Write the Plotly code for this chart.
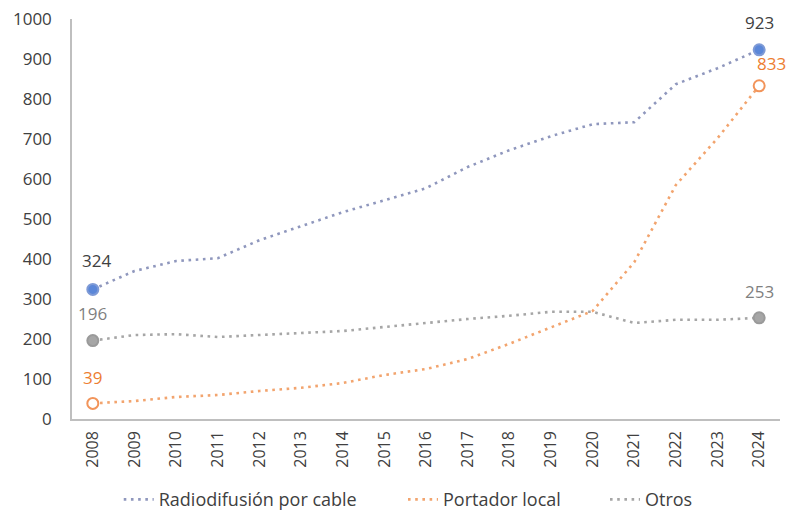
import plotly.graph_objects as go

years = [str(y) for y in range(2008, 2025)]
radiodifusion = [324, 370, 395, 402, 447, 482, 517, 547, 577, 630, 672, 707, 737, 742, 837, 877, 923]
portador = [39, 45, 55, 60, 70, 78, 90, 110, 125, 150, 188, 228, 270, 392, 585, 702, 833]
otros = [196, 210, 212, 205, 210, 215, 220, 230, 240, 250, 258, 268, 268, 240, 248, 248, 253]

names = ["Radiodifusión por cable", "Portador local", "Otros"]
line_colors = ["#8f97bd", "#f2a46e", "#a6a6a6"]
marker_fill = ["#5b87d8", "#ffffff", "#a6a6a6"]
marker_line = ["#7e9ad6", "#f2945a", "#9a9a9a"]
label_colors = ["#404040", "#ed7d31", "#7f7f7f"]
series = [radiodifusion, portador, otros]
legend_ids = ["legend", "legend2", "legend3"]
legend_x = [0.066, 0.4675, 0.7528]

FONT = "Open Sans"
fig = go.Figure()

for name, vals, lc, lg in zip(names, series, line_colors, legend_ids):
    fig.add_trace(go.Scatter(
        x=years, y=vals, mode="lines", name=name, legend=lg,
        line=dict(color=lc, width=2.6, dash="2.6px,4.6px"),
        hoverinfo="skip",
    ))

# end-point markers
for vals, fc, mc in zip(series, marker_fill, marker_line):
    fig.add_trace(go.Scatter(
        x=[years[0], years[-1]], y=[vals[0], vals[-1]], mode="markers",
        marker=dict(size=11, color=fc, line=dict(color=mc, width=2)),
        showlegend=False, hoverinfo="skip",
    ))

# value labels at both ends (x given as category index)
label_shift = {
    (0, 0): (4, 29), (0, 1): (0, 27),
    (1, 0): (0, 26), (1, 1): (12, 22),
    (2, 0): (0, 27), (2, 1): (0, 26),
}
for i, (vals, col) in enumerate(zip(series, label_colors)):
    for j, idx in enumerate([0, len(years) - 1]):
        xs, ys = label_shift[(i, j)]
        fig.add_annotation(
            x=idx, y=vals[idx], xref="x", yref="y",
            text=str(vals[idx]), showarrow=False,
            xshift=xs, yshift=ys, font=dict(family=FONT, size=17, color=col),
        )

legend_style = dict(orientation="h", yref="container", y=0.024, yanchor="middle",
                    xanchor="left",
                    font=dict(family=FONT, size=18, color="#404040"),
                    bgcolor="rgba(0,0,0,0)", borderwidth=0)

fig.update_layout(
    width=787, height=512,
    margin=dict(l=72, r=7, t=19, b=93, autoexpand=False),
    paper_bgcolor="white", plot_bgcolor="white",
    font=dict(family=FONT, color="#404040"),
    showlegend=True,
    legend=dict(x=legend_x[0], **legend_style),
    legend2=dict(x=legend_x[1], **legend_style),
    legend3=dict(x=legend_x[2], **legend_style),
    xaxis=dict(
        type="category", range=[-0.5, 16.5], showgrid=False,
        showline=True, linecolor="#bfbfbf", linewidth=1.5,
        tickangle=-90, tickfont=dict(family=FONT, size=16, color="#404040"),
        ticks="", ticklabelstandoff=4,
    ),
    yaxis=dict(
        range=[0, 1000], dtick=100, showgrid=False,
        showline=True, linecolor="#bfbfbf", linewidth=1.5,
        tickfont=dict(family=FONT, size=17, color="#404040"),
        ticks="", ticklabelstandoff=15,
    ),
)

fig.write_html("out.html")
